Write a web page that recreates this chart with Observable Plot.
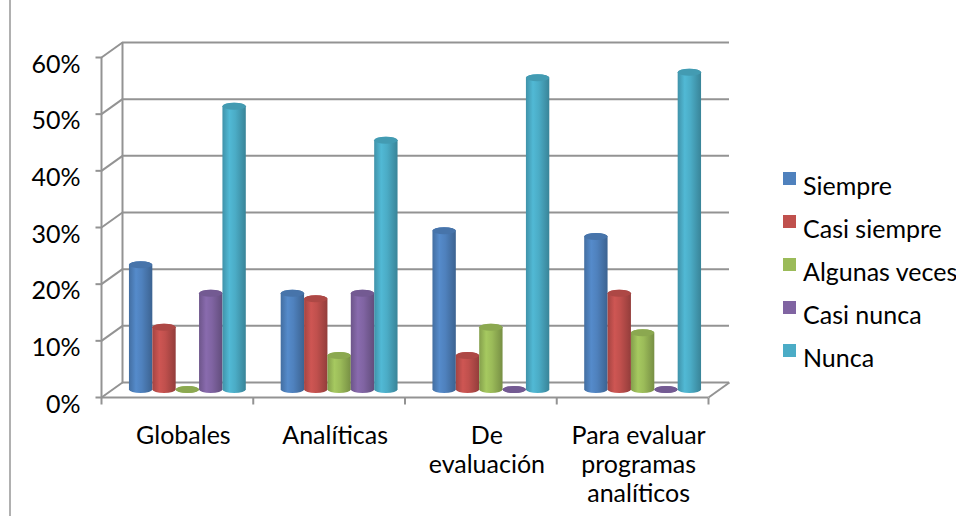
<!DOCTYPE html>
<html><head><meta charset="utf-8">
<script src="https://cdn.jsdelivr.net/npm/d3@7"></script>
<script src="https://cdn.jsdelivr.net/npm/@observablehq/plot@0.6"></script>
<style>
body{margin:0;background:#fff;}
#wrap{position:relative;width:956px;height:516px;overflow:hidden;font-family:Lato,"Open Sans",sans-serif;}
#border{position:absolute;left:9px;top:0;width:2px;height:516px;background:#b0b0b0;}
#chart{position:absolute;left:0;top:0;}
#legend{position:absolute;left:783px;top:160px;}
.row{position:relative;height:43px;}
.sw{position:absolute;left:0;top:12px;width:13px;height:13px;}
.lb{position:absolute;left:20px;top:10px;font-size:25px;line-height:30px;white-space:nowrap;color:#000;}
</style></head>
<body><div id="wrap"><div id="border"></div><div id="chart"></div><div id="legend"></div></div>
<script>
const categories = ["Globales", "Analíticas", "De evaluación", "Para evaluar programas analíticos"];
const categoryLabels = ["Globales", "Analíticas", "De\nevaluación", "Para evaluar\nprogramas\nanalíticos"];
const series = ["Siempre", "Casi siempre", "Algunas veces", "Casi nunca", "Nunca"];
const siempre = [0.22, 0.17, 0.28, 0.27];
const casiSiempre = [0.11, 0.16, 0.06, 0.17];
const algunasVeces = [0.00, 0.06, 0.11, 0.10];
const casiNunca = [0.17, 0.17, 0.00, 0.00];
const nunca = [0.50, 0.44, 0.55, 0.56];
const yTicks = [0, 0.1, 0.2, 0.3, 0.4, 0.5, 0.6];
const colors = ["#4F81BD", "#C0504D", "#9BBB59", "#8064A2", "#4BACC6"];

const seriesValues = [siempre, casiSiempre, algunasVeces, casiNunca, nunca];

// layout (pixels)
const W = 770, H = 516, mL = 101, mR = 62, mT = 57, mB = 119;
const nCat = categories.length;
const kx = nCat / (W - mL - mR);
const ky = 0.6 / (H - mT - mB);
const backX = 21 * kx, backY = 15 * ky;      // depth of back wall in data units
const midX = backX / 2, midY = backY / 2;    // bars sit at mid depth
const groupFrac = 0.77, bw = groupFrac / series.length, gap = (1 - groupFrac) / 2;
const barPx = bw / kx, rx = barPx / 2, ry = 3.5;
const grid = "#939393";

const rows = categories.flatMap((c, i) => series.map((s, j) => ({cat: c, i, j, s, value: seriesValues[j][i]})));
const X1 = d => d.i + gap + d.j * bw + midX;
const X2 = d => d.i + gap + (d.j + 1) * bw + midX;

const barMarks = series.flatMap((s, j) => {
  const data = rows.filter(d => d.j === j);
  const cap = d3.color(colors[j]).darker(0.3).formatHex();
  return [
    Plot.rect(data, {x1: X1, x2: X2, y1: midY, y2: d => d.value + midY, insetTop: -ry, insetBottom: -ry, rx, ry, fill: `url(#cyl${j})`}),
    Plot.rect(data, {x1: X1, x2: X2, y1: d => d.value + midY, y2: d => d.value + midY, insetTop: -ry, insetBottom: -ry, rx, ry, fill: cap})
  ];
});

const chart = Plot.plot({
  width: W, height: H, marginLeft: mL, marginRight: mR, marginTop: mT, marginBottom: mB,
  style: {fontFamily: "Lato, 'Open Sans', sans-serif", fontSize: "25px", color: "#000", background: "transparent"},
  x: {domain: [0, nCat], axis: null},
  y: {domain: [0, 0.6], axis: null},
  marks: [
    // back wall gridlines
    Plot.ruleY(yTicks, {y: d => d + backY, x1: backX, x2: nCat + backX, stroke: grid, strokeWidth: 2}),
    Plot.ruleX([backX], {y1: backY, y2: 0.6 + backY, stroke: grid, strokeWidth: 2}),
    Plot.link(yTicks, {x1: 0, y1: d => d, x2: backX, y2: d => d + backY, stroke: grid, strokeWidth: 2}),
    // floor
    Plot.ruleY([0], {x1: 0, x2: nCat, stroke: grid, strokeWidth: 2}),
    Plot.link([nCat], {x1: d => d, y1: 0, x2: d => d + backX, y2: backY, stroke: grid, strokeWidth: 2}),
    Plot.link(d3.range(nCat + 1), {x1: d => d, x2: d => d, y1: 0, y2: -7 * ky, stroke: grid, strokeWidth: 2}),
    // front value axis
    Plot.ruleX([0], {y1: 0, y2: 0.6, stroke: grid, strokeWidth: 2}),
    Plot.link(yTicks, {x1: 0, x2: -6 * kx, y1: d => d, y2: d => d, stroke: grid, strokeWidth: 2}),
    ...barMarks,
    Plot.text(yTicks, {x: 0, y: d => d, text: d => d3.format(".0%")(d), textAnchor: "end", dx: -21, dy: 7}),
    Plot.text(categoryLabels, {x: (d, i) => i + 0.5, y: 0, text: d => d, lineAnchor: "top", dx: 6, dy: 26, lineHeight: 1.16})
  ]
});

const defs = series.map((s, j) => {
  const c = d3.color(colors[j]);
  return `<linearGradient id="cyl${j}" x1="0" x2="1" y1="0" y2="0">
    <stop offset="0" stop-color="${c.darker(0.45).formatHex()}"/>
    <stop offset="0.3" stop-color="${c.brighter(0.2).formatHex()}"/>
    <stop offset="0.55" stop-color="${c.formatHex()}"/>
    <stop offset="1" stop-color="${c.darker(0.75).formatHex()}"/>
  </linearGradient>`;
}).join("");
chart.insertAdjacentHTML("afterbegin", `<defs>${defs}</defs>`);
document.getElementById("chart").appendChild(chart);

const legend = document.getElementById("legend");
series.forEach((s, j) => {
  const row = document.createElement("div");
  row.className = "row";
  row.innerHTML = `<div class="sw" style="background:${colors[j]}"></div><div class="lb">${s}</div>`;
  legend.appendChild(row);
});
</script>
</body></html>
